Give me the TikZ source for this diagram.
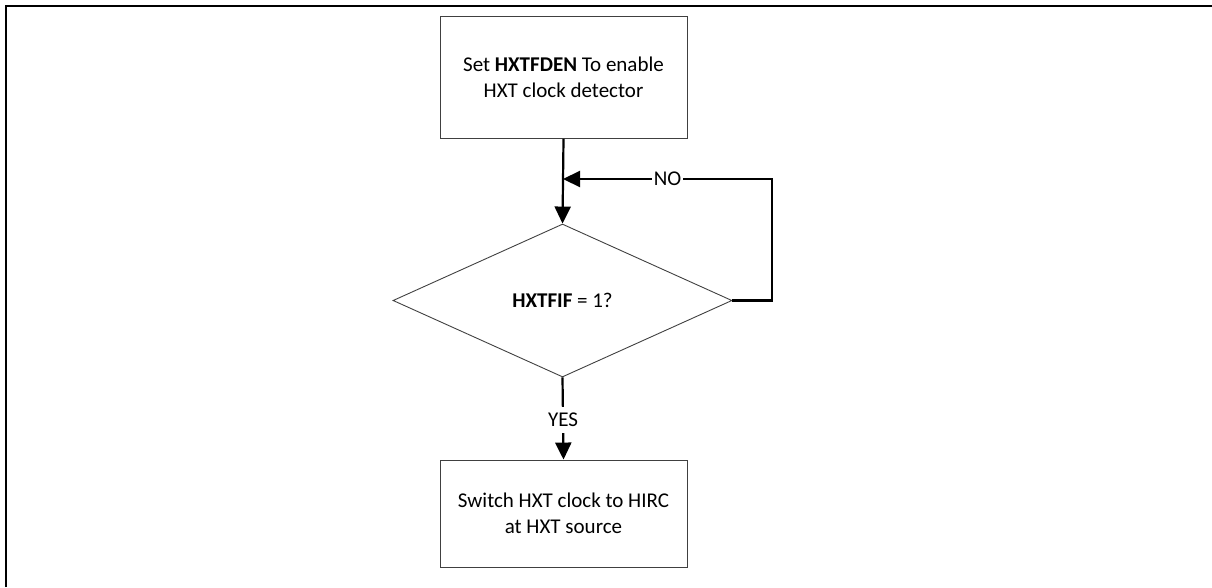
\documentclass[tikz,border=0pt]{standalone}
\usepackage{fontspec}
\setmainfont{Carlito}
\usetikzlibrary{arrows.meta,shapes.geometric}
\begin{document}
\begin{tikzpicture}[x=1pt,y=-1pt,
  every node/.style={font=\fontsize{21}{25.5}\selectfont},
  procbox/.style={draw=black!75,line width=0.9pt,minimum width=247pt,align=center,inner sep=0pt},
  decision/.style={draw=black!75,line width=0.9pt,shape=diamond,minimum width=339pt,minimum height=153pt,inner sep=0pt},
  flow/.style={line width=2.2pt,-{Triangle[length=17pt,width=16pt]}},
  flowlabel/.style={fill=white,inner xsep=2pt,inner ysep=6pt}]
\useasboundingbox (0,0) rectangle (1212,587);
\draw[line width=2.6pt] (6,587) -- (6,6) -- (1212,6);
\node[procbox,minimum height=122pt] (b1) at (563.5,77.5) {Set \textbf{HXTFDEN} To enable\\HXT clock detector};
\node[decision] (d) at (562.5,300.5) {\textbf{HXTFIF} = 1?};
\node[procbox,minimum height=107pt] (b2) at (563.5,513.5) {Switch HXT clock to HIRC\\at HXT source};
\coordinate (join) at (563,179);
\coordinate (loopr) at (772,300.5);
\coordinate (loopt) at (772,179);
\draw[flow] (b1.south) -- (d.north);
\draw[flow] (d.east) -- (loopr) -- (loopt) -- node[flowlabel,pos=0.50]{NO} (join);
\draw[flow] (d.south) -- node[flowlabel,pos=0.52]{YES} (b2.north);
\end{tikzpicture}
\end{document}
